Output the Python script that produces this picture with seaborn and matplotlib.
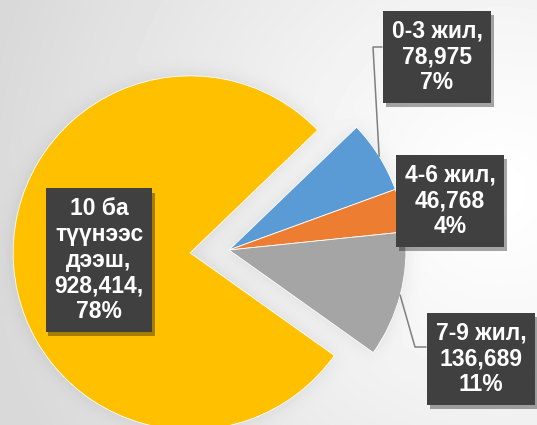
import numpy as np
import matplotlib
matplotlib.use("Agg")
import matplotlib.pyplot as plt
import matplotlib.patheffects as pe
import seaborn as sns

# data
categories = ["0-3 жил", "4-6 жил", "7-9 жил", "10 ба\nтүүнээс\nдээш"]
values = [78975, 46768, 136689, 928414]
value_suffix = ["", "", "", ","]
colors = ["#5B9BD5", "#ED7D31", "#A5A5A5", "#FFC000"]
explode = [0, 0, 0, 0.22]

sns.set_theme(style="white")
plt.rcParams["font.family"] = ["Liberation Sans", "DejaVu Sans"]

W, H, DPI = 537, 425, 100
CX, CY, R = 229, 250, 177  # pie centre / radius in pixels
START = 43.9


def px(x, y):
    return (x - CX) / R, (CY - y) / R


def setup(ax):
    ax.set_xlim(-CX / R, (W - CX) / R)
    ax.set_ylim(-(H - CY) / R, CY / R)
    ax.set_aspect("auto")
    ax.axis("off")


def draw_pie(ax, cols, lw):
    wedges, _ = ax.pie(values, colors=cols, explode=explode, startangle=START,
                       counterclock=False, radius=1,
                       wedgeprops=dict(linewidth=lw, edgecolor="white"))
    setup(ax)
    return wedges


def blur(a, s):
    k = np.exp(-0.5 * (np.arange(-3 * s, 3 * s + 1) / s) ** 2)
    k /= k.sum()
    a = np.apply_along_axis(lambda r: np.convolve(r, k, mode="same"), 1, a)
    a = np.apply_along_axis(lambda c: np.convolve(c, k, mode="same"), 0, a)
    return a


# shadow mask from the same pie
fig_m = plt.figure(figsize=(W / DPI, H / DPI), dpi=DPI)
ax_m = fig_m.add_axes([0, 0, 1, 1])
draw_pie(ax_m, ["black"] * 4, 0)
fig_m.canvas.draw()
buf = np.asarray(fig_m.canvas.buffer_rgba())[..., 0] / 255.0
plt.close(fig_m)
mask = 1 - buf[:H, :W]
halo = blur(mask, 9)

yy, xx = np.mgrid[0:H, 0:W]
d = np.hypot(xx - 500, yy - 190) / 520
bg = 1 - 0.15 * np.clip(d, 0, 1) ** 1.2 - 0.09 * halo

fig = plt.figure(figsize=(W / DPI, H / DPI), dpi=DPI)
ax_bg = fig.add_axes([0, 0, 1, 1])
ax_bg.imshow(bg, cmap="gray", vmin=0, vmax=1, aspect="auto", interpolation="bilinear")
ax_bg.axis("off")

ax = fig.add_axes([0, 0, 1, 1])
ax.set_facecolor("none")
wedges = draw_pie(ax, colors, 0.6)

total = sum(values)
label_pos = [(437, 57), (450, 201), (481, 359), (99, 260)]
leaders = {0: [(373, 47), (382, 47)], 2: [(415, 347), (426, 347)]}

for i, w in enumerate(wedges):
    pct = round(values[i] / total * 100)
    txt = f"{categories[i]},\n{values[i]:,}{value_suffix[i]}\n{pct}%"
    t = ax.text(*px(*label_pos[i]), txt, ha="center", va="center",
                multialignment="center", color="white", fontsize=16.5,
                fontweight="bold", linespacing=1.15, zorder=5,
                bbox=dict(boxstyle="square,pad=0.38", fc="#404040", ec="none"))
    t.get_bbox_patch().set_path_effects(
        [pe.SimplePatchShadow(offset=(2, -3), shadow_rgbFace="black", alpha=0.35),
         pe.Normal()])
    if i in leaders:
        mid = np.deg2rad((w.theta1 + w.theta2) / 2)
        xs = [np.cos(mid)] + [px(*p)[0] for p in leaders[i]]
        ys = [np.sin(mid)] + [px(*p)[1] for p in leaders[i]]
        ax.plot(xs, ys, color="#7f7f7f", lw=1.1, zorder=4)

fig.savefig("out.png", dpi=DPI)
